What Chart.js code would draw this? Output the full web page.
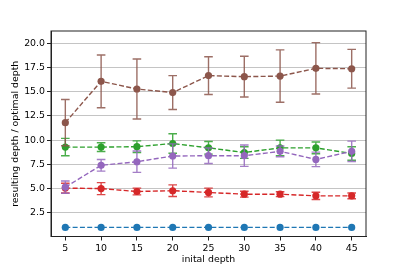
<!DOCTYPE html>
<html>
<head>
<meta charset="utf-8">
<script src="https://cdn.jsdelivr.net/npm/chart.js@4/dist/chart.umd.min.js"></script>
<style>
  html, body { margin: 0; padding: 0; background: #fff; }
  #wrap { width: 407px; height: 271px; position: relative; }
</style>
</head>
<body>
<div id="wrap"><canvas id="depthChart"></canvas></div>
<script>
// Data
const depths = [5, 10, 15, 20, 25, 30, 35, 40, 45];
const yTicks = [2.5, 5.0, 7.5, 10.0, 12.5, 15.0, 17.5, 20.0];

const blueVals = [1, 1, 1, 1, 1, 1, 1, 1, 1];
const blueErr = [0, 0, 0, 0, 0, 0, 0, 0, 0];

const greenVals = [9.28, 9.28, 9.32, 9.65, 9.2, 8.72, 9.2, 9.2, 8.62];
const greenErr = [0.9, 0.45, 0.6, 1.0, 0.65, 0.6, 0.8, 0.6, 0.7];

const redVals = [5.05, 5.0, 4.7, 4.78, 4.6, 4.42, 4.42, 4.25, 4.25];
const redErr = [0.5, 0.62, 0.35, 0.6, 0.45, 0.3, 0.25, 0.38, 0.3];

const purpleVals = [5.15, 7.4, 7.77, 8.36, 8.39, 8.39, 8.84, 8.01, 8.84];
const purpleErr = [0.63, 0.6, 1.1, 1.25, 0.8, 1.1, 0.55, 0.75, 1.05];

const brownVals = [11.8, 16.06, 15.27, 14.9, 16.65, 16.54, 16.6, 17.4, 17.36];
const brownErr = [2.38, 2.72, 3.1, 1.75, 1.95, 2.1, 2.7, 2.65, 2.0];

const font = { family: "'DejaVu Sans', sans-serif", size: 9.4 };

function makeSeries(vals, errs, color, order) {
    return {
        data: depths.map((d, i) => ({ x: d, y: vals[i] })),
        errors: errs,
        borderColor: color,
        backgroundColor: color,
        pointBackgroundColor: color,
        pointBorderColor: color,
        pointRadius: 3.6,
        pointBorderWidth: 0,
        borderWidth: 1.4,
        borderDash: [5, 2.3],
        tension: 0,
        fill: false,
        order: order
    };
}

// error bars drawn right before each series, through the y scale
const errorBars = {
    id: 'errorBars',
    beforeDatasetDraw(chart, args) {
        const ds = chart.data.datasets[args.index];
        if (!ds.errors) return;
        const ctx = chart.ctx;
        const yScale = chart.scales.y;
        ctx.save();
        ctx.strokeStyle = ds.borderColor;
        ctx.globalAlpha = 0.85;
        ctx.lineWidth = 1.4;
        args.meta.data.forEach((pt, i) => {
            const e = ds.errors[i];
            if (!e) return;
            const v = ds.data[i].y;
            const top = yScale.getPixelForValue(v + e);
            const bot = yScale.getPixelForValue(v - e);
            ctx.beginPath();
            ctx.moveTo(pt.x, top);
            ctx.lineTo(pt.x, bot);
            ctx.moveTo(pt.x - 4.3, top);
            ctx.lineTo(pt.x + 4.3, top);
            ctx.moveTo(pt.x - 4.3, bot);
            ctx.lineTo(pt.x + 4.3, bot);
            ctx.stroke();
        });
        ctx.restore();
    },
    afterDraw(chart) {
        const a = chart.chartArea;
        const ctx = chart.ctx;
        ctx.save();
        ctx.strokeStyle = '#222';
        ctx.lineWidth = 1;
        ctx.strokeRect(a.left, a.top, a.right - a.left, a.bottom - a.top);
        ctx.restore();
    }
};

const ctx = document.getElementById('depthChart').getContext('2d');
const depthChart = new Chart(ctx, {
    type: 'line',
    data: {
        datasets: [
            makeSeries(blueVals, blueErr, '#1f77b4', 4),
            makeSeries(greenVals, greenErr, '#2ca02c', 3),
            makeSeries(redVals, redErr, '#d62728', 2),
            makeSeries(purpleVals, purpleErr, '#9467bd', 1),
            makeSeries(brownVals, brownErr, '#8c564b', 0)
        ]
    },
    options: {
        responsive: true,
        maintainAspectRatio: false,
        animation: false,
        layout: { padding: { left: 0, right: 41, top: 31, bottom: 0 } },
        plugins: {
            legend: { display: false },
            tooltip: { enabled: false }
        },
        scales: {
            x: {
                type: 'linear',
                min: 3,
                max: 47,
                afterBuildTicks: s => { s.ticks = depths.map(v => ({ value: v })); },
                afterFit: s => { s.height = 34.5; },
                ticks: { color: '#000', font: font, padding: 2, maxRotation: 0 },
                grid: { drawOnChartArea: false, tickColor: '#222', tickLength: 4 },
                border: { color: '#222', width: 1 },
                title: { display: true, text: 'inital depth', color: '#000', font: font, padding: { top: 0, bottom: 6 } }
            },
            y: {
                type: 'linear',
                min: 0.06,
                max: 21.25,
                afterBuildTicks: s => { s.ticks = yTicks.map(v => ({ value: v })); },
                afterFit: s => { s.width = 51; },
                ticks: { color: '#000', font: font, padding: 2, callback: v => v.toFixed(1) },
                grid: { color: '#c4c4c4', lineWidth: 1, tickColor: '#222', tickLength: 4 },
                border: { color: '#222', width: 1 },
                title: { display: true, text: 'resulting depth / optimal depth', color: '#000', font: font, padding: { top: 10, bottom: 0 } }
            }
        }
    },
    plugins: [errorBars]
});
</script>
</body>
</html>
